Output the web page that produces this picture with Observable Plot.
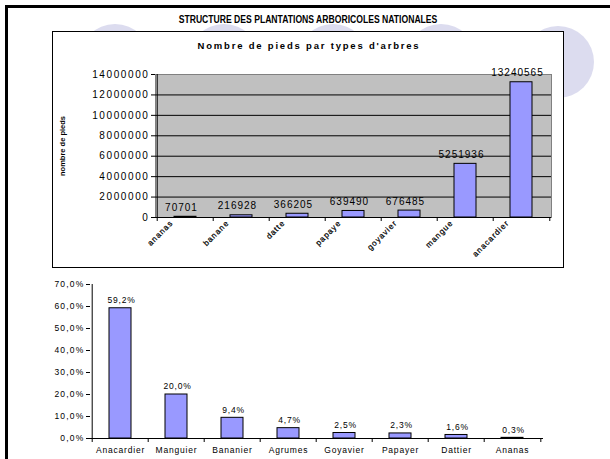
<!DOCTYPE html>
<html>
<head>
<meta charset="utf-8">
<script src="https://cdn.jsdelivr.net/npm/d3@7"></script>
<script src="https://cdn.jsdelivr.net/npm/@observablehq/plot@0.6"></script>
<style>
  html, body { margin: 0; padding: 0; background: #fff; }
  body { width: 610px; height: 459px; position: relative; overflow: hidden; font-family: "Liberation Sans", Arial, sans-serif; }
  .circle { position: absolute; width: 72px; height: 72px; border-radius: 50%; background: #dcdcef; }
  #frame { position: absolute; left: 5px; top: 5px; width: 700px; height: 600px; border-left: 3px solid #000; border-top: 3px solid #000; }
  #title { position: absolute; left: 52px; width: 512px; top: 14px; text-align: center; font-weight: bold; font-size: 10px; color: #000; transform: scaleX(0.86); }
  #box { position: absolute; left: 52px; top: 31px; width: 510px; height: 235px; border: 1.5px solid #000; background: #fff; }
  #subtitle { position: absolute; left: 0; width: 512px; top: 8px; text-align: center; font-weight: bold; font-size: 9.5px; letter-spacing: 1.8px; }
  #top, #bottom { position: absolute; }
  #top { left: 0; top: 0; }
  #bottom { left: 0; top: 275px; }
  #top g[aria-label="y-axis tick label"] text { letter-spacing: 1.6px; }
  #top text[aria-label="values"] { letter-spacing: 1.0px; }
  #top text[aria-label="categories"] { letter-spacing: 1.0px; }
  #bottom g[aria-label="y-axis tick label"] text { letter-spacing: 1.2px; }
  #bottom g[aria-label="x-axis tick label"] text { letter-spacing: 0.8px; }
  #bottom text[aria-label="values"] { letter-spacing: 0.8px; }
</style>
</head>
<body>
<div class="circle" style="left:79px;top:24px"></div>
<div class="circle" style="left:188px;top:24px"></div>
<div class="circle" style="left:297px;top:24px"></div>
<div class="circle" style="left:405px;top:24px"></div>
<div class="circle" style="left:522px;top:26px"></div>
<div id="frame"></div>
<div id="title">STRUCTURE DES PLANTATIONS ARBORICOLES NATIONALES</div>
<div id="box">
  <div id="subtitle">Nombre de pieds par types d'arbres</div>
  <div id="top"></div>
</div>
<div id="bottom"></div>
<script>
// ---- data: top chart ----
const topCats = ["ananas", "banane", "datte", "papaye", "goyavier", "mangue", "anacardier"];
const topVals = [70701, 216928, 366205, 639490, 676485, 5251936, 13240565];
const topTicks = [0, 2000000, 4000000, 6000000, 8000000, 10000000, 12000000, 14000000];
const topAxisTitle = "nombre de pieds";

// ---- data: bottom chart ----
const botCats = ["Anacardier", "Manguier", "Bananier", "Agrumes", "Goyavier", "Papayer", "Dattier", "Ananas"];
const botVals = [59.2, 20.0, 9.4, 4.7, 2.5, 2.3, 1.6, 0.3];
const botTicks = [0, 10, 20, 30, 40, 50, 60, 70];

const font = "Liberation Sans, Arial, sans-serif";
const barFill = "#9999ff";

const topData = topCats.map((c, i) => ({cat: c, val: topVals[i]}));
const botData = botCats.map((c, i) => ({cat: c, val: botVals[i]}));
const pct = v => v.toFixed(1).replace(".", ",") + "%";

// ---- top chart ----
const tW = 510, tH = 235, tML = 102, tMR = 12, tMT = 42, tMB = 50;
const tStep = (tW - tML - tMR) / topCats.length;
const topPlot = Plot.plot({
  width: tW, height: tH,
  marginLeft: tML, marginRight: tMR, marginTop: tMT, marginBottom: tMB,
  style: {fontFamily: font, background: "transparent", overflow: "visible"},
  x: {domain: topCats, paddingInner: 0.6, paddingOuter: 0.3, label: null, axis: null},
  y: {domain: [0, 14000000], label: null},
  marks: [
    Plot.frame({fill: "#c0c0c0", stroke: "#808080"}),
    Plot.ruleY(topTicks.filter(t => t > 0 && t < 14000000), {stroke: "#000", strokeWidth: 1}),
    Plot.barY(topData, {x: "cat", y: "val", fill: barFill, stroke: "#000", strokeWidth: 1}),
    Plot.text(topData, {x: "cat", y: "val", text: d => String(d.val), dy: -9, dx: -4, fontSize: 10, fill: "#000", ariaLabel: () => "values"}),
    Plot.ruleX([topCats[0]], {x: d => d, y1: 0, y2: 14000000, dx: -tStep / 2, stroke: "#000"}),
    Plot.ruleX(topCats, {x: d => d, y1: 0, y2: 0, insetBottom: -4, dx: -tStep / 2, stroke: "#000"}),
    Plot.ruleX([topCats[topCats.length - 1]], {x: d => d, y1: 0, y2: 0, insetBottom: -4, dx: tStep / 2, stroke: "#000"}),
    Plot.ruleY([0], {stroke: "#000"}),
    Plot.axisY({ticks: topTicks, tickFormat: d => String(d), tickSize: 4, fontSize: 10, tickPadding: 2}),
    Plot.text(topCats, {x: d => d, text: d => d, frameAnchor: "bottom", dy: 6, dx: -12, rotate: -45, textAnchor: "end", fontSize: 8, fill: "#000", stroke: "#000", strokeWidth: 0.25, ariaLabel: () => "categories"}),
    Plot.text([topAxisTitle], {frameAnchor: "left", dx: -93, rotate: -90, textAnchor: "middle", fontSize: 7.5, fontWeight: "bold", text: d => d})
  ]
});
document.getElementById("top").appendChild(topPlot);

// ---- bottom chart ----
const bW = 610, bH = 184, bML = 90, bMR = 67, bMT = 9, bMB = 21;
const bStep = (bW - bML - bMR) / botCats.length;
const botPlot = Plot.plot({
  width: bW, height: bH,
  marginLeft: bML, marginRight: bMR, marginTop: bMT, marginBottom: bMB,
  style: {fontFamily: font, background: "transparent", overflow: "visible"},
  x: {domain: botCats, paddingInner: 0.6, paddingOuter: 0.3, label: null},
  y: {domain: [0, 70], label: null},
  marks: [
    Plot.barY(botData, {x: "cat", y: "val", fill: barFill, stroke: "#000", strokeWidth: 1}),
    Plot.text(botData, {x: "cat", y: "val", text: d => pct(d.val), dy: -8, dx: 1, fontSize: 8.5, fill: "#000", ariaLabel: () => "values"}),
    Plot.ruleX([botCats[0]], {x: d => d, y1: 0, y2: 70, dx: -bStep / 2, stroke: "#000"}),
    Plot.ruleX(botCats, {x: d => d, y1: 0, y2: 0, insetBottom: -4, dx: -bStep / 2, stroke: "#000"}),
    Plot.ruleX([botCats[botCats.length - 1]], {x: d => d, y1: 0, y2: 0, insetBottom: -4, dx: bStep / 2, stroke: "#000"}),
    Plot.ruleY([0], {stroke: "#000"}),
    Plot.axisY({ticks: botTicks, tickFormat: d => pct(d), tickSize: 4, fontSize: 8.5, tickPadding: 2}),
    Plot.axisX({tickSize: 0, fontSize: 8.5, tickPadding: 8})
  ]
});
document.getElementById("bottom").appendChild(botPlot);
</script>
</body>
</html>
